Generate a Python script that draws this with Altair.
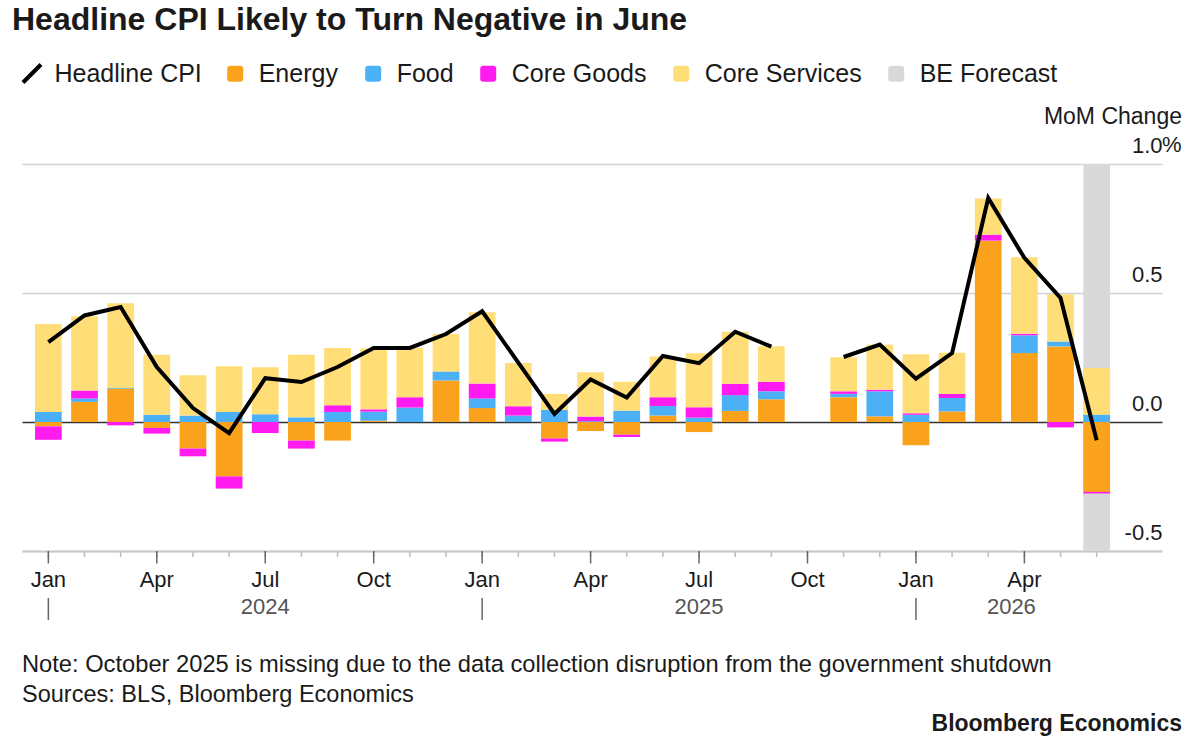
import altair as alt
import pandas as pd

# ---- data -------------------------------------------------------------
month_names = ["Jan", "Feb", "Mar", "Apr", "May", "Jun",
               "Jul", "Aug", "Sep", "Oct", "Nov", "Dec"]
months = [f"{m} {y}" for y in (2024, 2025, 2026) for m in month_names][:30]

# Contributions to month-over-month CPI change (percentage points).
# October 2025 has no data (government shutdown).
energy = [-0.017, 0.078, 0.129, -0.023, -0.103, -0.211, 0.0, -0.072, -0.072, 0.005, 0.0, 0.161,
          0.054, 0.0, -0.064, -0.035, -0.049, 0.025, -0.039, 0.043, 0.088, None, 0.096, 0.022,
          -0.090, 0.041, 0.703, 0.267, 0.293, -0.271]
food = [0.039, 0.013, 0.003, 0.028, 0.025, 0.039, 0.030, 0.018, 0.039, 0.035, 0.056, 0.035,
        0.037, 0.025, 0.047, 0.003, 0.044, 0.037, 0.017, 0.061, 0.031, None, 0.013, 0.097,
        0.028, 0.052, 0.0, 0.069, 0.019, 0.028]
core_goods = [-0.052, 0.031, -0.013, -0.022, -0.030, -0.047, -0.043, -0.031, 0.026, 0.009, 0.040, 0.0,
              0.058, 0.036, -0.012, 0.018, -0.009, 0.034, 0.040, 0.044, 0.037, None, 0.010, 0.006,
              0.006, 0.016, 0.023, 0.006, -0.021, -0.006]
core_services = [0.341, 0.288, 0.328, 0.233, 0.156, 0.177, 0.182, 0.243, 0.222, 0.236, 0.191, 0.145,
                 0.276, 0.168, 0.062, 0.172, 0.112, 0.158, 0.209, 0.202, 0.138, None, 0.132, 0.174,
                 0.229, 0.159, 0.140, 0.297, 0.183, 0.181]
headline = [0.31, 0.413, 0.446, 0.213, 0.054, -0.043, 0.17, 0.155, 0.213, 0.287, 0.287, 0.341,
            0.429, 0.23, 0.031, 0.165, 0.095, 0.256, 0.228, 0.35, 0.292, None, 0.252, 0.30,
            0.168, 0.267, 0.868, 0.636, 0.481, -0.071]

components = ["Energy", "Food", "Core Goods", "Core Services"]
component_values = [energy, food, core_goods, core_services]
component_colors = ["#FBA21C", "#4BB0F5", "#FF1AF0", "#FFDE78"]
forecast_label = "BE Forecast"
forecast_color = "#D9D9D9"
forecast_months = ["Jun 2026"]
gap_month = "Oct 2025"

quarter_labels = ["Jan", "Apr", "Jul", "Oct"]
y_ticks = [-0.5, 0.0, 0.5, 1.0]
y_tick_labels = ["-0.5", "0.0", "0.5", "1.0"]
year_labels = ["2024", "2025"]
year_anchor = ["Jul 2024", "Jul 2025"]
last_year_label = "2026"
last_year_anchor = "Apr 2026"

title_text = "Headline CPI Likely to Turn Negative in June"
axis_title = "MoM Change"
note_text = "Note: October 2025 is missing due to the data collection disruption from the government shutdown"
source_text = "Sources: BLS, Bloomberg Economics"
brand_text = "Bloomberg Economics"

# ---- tables -----------------------------------------------------------
rows = []
for i, m in enumerate(months):
    for rank, (comp, vals) in enumerate(zip(components, component_values)):
        if vals[i] is not None:
            rows.append({"month": m, "component": comp, "value": vals[i], "rank": rank})
bars_df = pd.DataFrame(rows)

gap_index = months.index(gap_month)
line_df = pd.DataFrame([
    {"month": m, "headline": v, "series": "Headline CPI",
     "segment": "a" if i < gap_index else "b"}
    for i, (m, v) in enumerate(zip(months, headline)) if v is not None
])

band_df = pd.DataFrame({"month": forecast_months, "series": forecast_label,
                        "lo": y_ticks[0], "hi": y_ticks[-1]})

ticks_df = pd.DataFrame({"month": months,
                         "quarter": [m.split(" ")[0] in quarter_labels for m in months],
                         "jan": [m.startswith("Jan") for m in months]})
years_df = pd.DataFrame({"month": year_anchor, "year": year_labels})
last_year_df = pd.DataFrame({"month": [last_year_anchor], "year": [last_year_label]})

# ---- layout / style ---------------------------------------------------
W, H = 1140, 387
FONT = "Liberation Sans"
INK = "#1a1a1a"

x_scale = alt.Scale(domain=months, type="band", paddingInner=0.26,
                    paddingOuter=0.898, align=0.2, round=False)
y_scale = alt.Scale(domain=[y_ticks[0], y_ticks[-1]], nice=False, zero=False)

x_label_expr = ("indexof([" + ",".join(f"'{q}'" for q in quarter_labels) +
                "], split(datum.value, ' ')[0]) >= 0 ? split(datum.value, ' ')[0] : ''")
y_label_expr = " : ".join(f"datum.value == {v} ? '{t}'" for v, t in zip(y_ticks, y_tick_labels)) + " : ''"

x_axis = alt.Axis(title=None, labelExpr=x_label_expr, ticks=False, tickSize=0,
                  domainColor="#c8c8c8", domainWidth=2, grid=False, labelAngle=0,
                  labelFont=FONT, labelFontSize=22, labelColor=INK,
                  labelBaseline="alphabetic", labelPadding=35, labelOverlap=False)
y_axis = alt.Axis(title=None, orient="right", values=y_ticks, labelExpr=y_label_expr,
                  domain=False, ticks=False, tickSize=0, labelPadding=0,
                  labelAlign="right", labelBaseline="alphabetic", labelOffset=-12,
                  labelFont=FONT, labelFontSize=22, labelColor=INK, labelOverlap=False,
                  grid=True, gridWidth=1.5,
                  gridColor={"condition": {"test": "datum.value === 0", "value": "#333333"},
                             "value": "#d2d2d2"})

color_scale = alt.Scale(domain=components + [forecast_label],
                        range=component_colors + [forecast_color])
rounded_square = ("M-1,-0.6Q-1,-1,-0.6,-1L0.6,-1Q1,-1,1,-0.6L1,0.6"
                  "Q1,1,0.6,1L-0.6,1Q-1,1,-1,0.6Z")
color_legend = alt.Legend(title=None, orient="none", legendX=200.7, legendY=-103,
                          direction="horizontal", symbolType=rounded_square, symbolSize=256,
                          symbolStrokeWidth=0, symbolOpacity=1, labelFont=FONT,
                          labelFontSize=25, labelColor=INK, labelOffset=11,
                          columnPadding=22, padding=0)
stroke_legend = alt.Legend(title=None, orient="none", legendX=-2.5, legendY=-103,
                           symbolType="M-0.9,0.9L0.9,-0.9", symbolSize=400,
                           symbolStrokeWidth=4, labelFont=FONT, labelFontSize=25,
                           labelColor=INK, labelOffset=10, padding=0)


def x_enc(mid=False):
    if mid:
        return alt.X("month:N", scale=x_scale, axis=x_axis, bandPosition=0.5)
    return alt.X("month:N", scale=x_scale, axis=x_axis)


def y_enc(field, **kw):
    return alt.Y(field, scale=y_scale, axis=y_axis, **kw)


# ---- marks ------------------------------------------------------------
forecast = alt.Chart(band_df).mark_bar().encode(
    x=x_enc(),
    y=y_enc("lo:Q"),
    y2="hi:Q",
    color=alt.Color("series:N", scale=color_scale, legend=color_legend),
)

bars = alt.Chart(bars_df).mark_bar().encode(
    x=x_enc(),
    y=y_enc("value:Q", stack="zero"),
    color=alt.Color("component:N", scale=color_scale, legend=color_legend),
    order=alt.Order("rank:Q", sort="ascending"),
)

line = alt.Chart(line_df).mark_line(strokeWidth=4, strokeJoin="miter").encode(
    x=x_enc(True),
    y=y_enc("headline:Q"),
    stroke=alt.Stroke("series:N", scale=alt.Scale(domain=["Headline CPI"], range=["#000000"]),
                      legend=stroke_legend),
    detail="segment:N",
)

minor_ticks = alt.Chart(ticks_df).mark_rule(color="#bdbdbd", strokeWidth=1.5).encode(
    x=x_enc(True), y=alt.value(H), y2=alt.value(H + 6))
major_ticks = alt.Chart(ticks_df).transform_filter("datum.quarter").mark_rule(
    color="#666666", strokeWidth=1.5).encode(x=x_enc(True), y=alt.value(H), y2=alt.value(H + 12.5))
year_rules = alt.Chart(ticks_df).transform_filter("datum.jan").mark_rule(
    color="#666666", strokeWidth=1.5).encode(x=x_enc(True), y=alt.value(H + 47), y2=alt.value(H + 69))

year_style = dict(font=FONT, fontSize=22, color="#555555", baseline="alphabetic", align="center")
year_text = alt.Chart(years_df).mark_text(**year_style).encode(
    x=x_enc(True), y=alt.value(H + 63), text="year:N")
last_year_text = alt.Chart(last_year_df).mark_text(dx=-13, **year_style).encode(
    x=x_enc(True), y=alt.value(H + 63), text="year:N")

pct = alt.Chart(pd.DataFrame({"v": [y_ticks[-1]]})).mark_text(
    text="%", font=FONT, fontSize=22, color=INK, align="left", baseline="alphabetic",
    dy=-12).encode(x=alt.value(W), y=y_enc("v:Q"))

one = pd.DataFrame({"k": [0]})


def label(text, x, y, size, align="left", weight="normal", color=INK):
    return alt.Chart(one).mark_text(
        text=text, font=FONT, fontSize=size, fontWeight=weight, color=color,
        align=align, baseline="alphabetic").encode(x=alt.value(x), y=alt.value(y))


title = label(title_text, -10, -134, 32, weight="bold")
mom = label(axis_title, W + 20, -40, 23, align="right")
note = label(note_text, 0, 507.5, 23.7)
source = label(source_text, 0, 537.5, 23.5)
brand = label(brand_text, W + 20, 566.5, 23, align="right", weight="bold")

chart = alt.layer(
    forecast, bars, line, minor_ticks, major_ticks, year_rules, year_text, last_year_text,
    pct, title, mom, note, source, brand,
).properties(
    width=W, height=H,
    padding={"left": 22, "top": 164, "right": 38, "bottom": 195},
    autosize=alt.AutoSizeParams(type="none"),
    background="white",
).configure_view(stroke=None)

chart.save("out.html", embed_options={"renderer": "svg", "actions": False})
